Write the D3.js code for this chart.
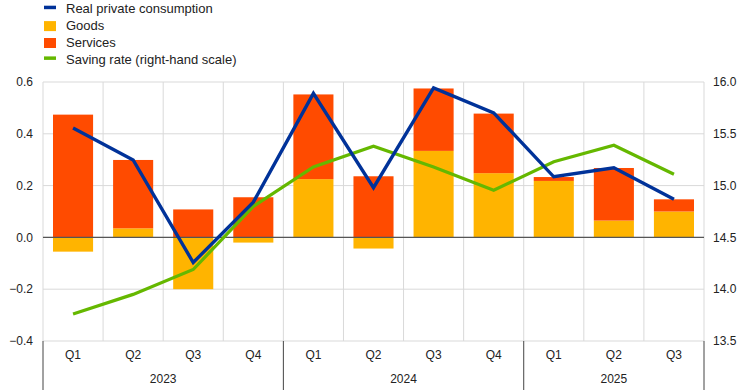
<!DOCTYPE html>
<html>
<head>
<meta charset="utf-8">
<script src="https://cdn.jsdelivr.net/npm/d3@7"></script>
<style>
  body { margin: 0; background: #fff; }
  text { font-family: "Liberation Sans", Arial, sans-serif; fill: #222; }
</style>
</head>
<body>
<svg width="744" height="390"></svg>
<script>
// quarters and years
var quarters = ["Q1","Q2","Q3","Q4","Q1","Q2","Q3","Q4","Q1","Q2","Q3"];
var years = ["2023","2023","2023","2023","2024","2024","2024","2024","2025","2025","2025"];

// contributions (left scale)
var goods    = [-0.055, 0.035, -0.200, -0.020, 0.225, -0.043, 0.334, 0.248, 0.218, 0.065, 0.100];
var services = [ 0.474, 0.264,  0.108,  0.155, 0.327,  0.236, 0.241, 0.230, 0.015, 0.203, 0.047];
var consumption = [0.422, 0.299, -0.097, 0.136, 0.556, 0.192, 0.577, 0.481, 0.234, 0.269, 0.147];

// saving rate (right scale)
var saving = [13.76, 13.95, 14.19, 14.80, 15.18, 15.38, 15.18, 14.955, 15.23, 15.39, 15.11];

var leftTicks = [-0.4, -0.2, 0.0, 0.2, 0.4, 0.6];
var rightTicks = [13.5, 14.0, 14.5, 15.0, 15.5, 16.0];

var colBlue = "#003299", colGoods = "#FFB400", colServ = "#FF4B00", colGreen = "#65B800";

var svg = d3.select("svg"),
  width = +svg.attr("width"),
  height = +svg.attr("height");

var margin = {top: 82, right: 40, bottom: 49, left: 43};
var x0 = margin.left, x1 = width - margin.right;
var y0 = height - margin.bottom, y1 = margin.top;

var idx = d3.range(quarters.length);

var x = d3.scaleBand().domain(idx).range([x0, x1]).paddingInner(0.333).paddingOuter(0.1665);
var xStep = (x1 - x0) / idx.length;
var y = d3.scaleLinear().domain([-0.4, 0.6]).range([y0, y1]);
var yR = d3.scaleLinear().domain([13.5, 16.0]).range([y0, y1]);

// grid
var grid = svg.append("g");
grid.selectAll("line.h")
  .data(leftTicks)
  .enter().append("line")
  .attr("x1", x0).attr("x2", x1)
  .attr("y1", function(d){ return y(d); })
  .attr("y2", function(d){ return y(d); })
  .attr("stroke", "#d9d9d9");
grid.selectAll("line.v")
  .data(d3.range(idx.length + 1))
  .enter().append("line")
  .attr("x1", function(i){ return x0 + i * xStep; })
  .attr("x2", function(i){ return x0 + i * xStep; })
  .attr("y1", y1).attr("y2", y0)
  .attr("stroke", "#d9d9d9");

// bars: goods and services stacked from zero
var bars = svg.append("g");
idx.forEach(function(i){
  var g = goods[i], s = services[i];
  var posBase = 0, negBase = 0;
  var parts = [[g, colGoods], [s, colServ]];
  parts.forEach(function(p){
    var v = p[0], a, b;
    if (v >= 0) { a = posBase; b = posBase + v; posBase = b; }
    else { a = negBase; b = negBase + v; negBase = b; }
    bars.append("rect")
      .attr("x", x(i))
      .attr("width", x.bandwidth())
      .attr("y", y(Math.max(a, b)))
      .attr("height", Math.abs(y(a) - y(b)))
      .attr("fill", p[1]);
  });
});

// zero line
svg.append("line")
  .attr("x1", x0).attr("x2", x1)
  .attr("y1", y(0)).attr("y2", y(0))
  .attr("stroke", "#555").attr("stroke-width", 1.2);

// lines
var cx = function(i){ return x(i) + x.bandwidth() / 2; };
svg.append("path")
  .datum(idx)
  .attr("fill", "none")
  .attr("stroke", colGreen)
  .attr("stroke-width", 3.2)
  .attr("d", d3.line().x(cx).y(function(i){ return yR(saving[i]); }));
svg.append("path")
  .datum(idx)
  .attr("fill", "none")
  .attr("stroke", colBlue)
  .attr("stroke-width", 3.4)
  .attr("d", d3.line().x(cx).y(function(i){ return y(consumption[i]); }));

// left axis labels
svg.append("g").selectAll("text")
  .data(leftTicks)
  .enter().append("text")
  .attr("x", 33)
  .attr("y", function(d){ return y(d); })
  .attr("dy", "0.35em")
  .attr("text-anchor", "end")
  .style("font-size", "12px")
  .text(function(d){ return d3.format(".1f")(d); });

// right axis labels
svg.append("g").selectAll("text")
  .data(rightTicks)
  .enter().append("text")
  .attr("x", 713)
  .attr("y", function(d){ return yR(d); })
  .attr("dy", "0.35em")
  .style("font-size", "12px")
  .text(function(d){ return d3.format(".1f")(d); });

// category axis
svg.append("g").selectAll("text")
  .data(idx)
  .enter().append("text")
  .attr("x", cx)
  .attr("y", 355)
  .attr("dy", "0.35em")
  .attr("text-anchor", "middle")
  .style("font-size", "12px")
  .text(function(i){ return quarters[i]; });

var yearGroups = d3.groups(idx, function(i){ return years[i]; });
var seps = [0];
yearGroups.forEach(function(gr){
  var first = gr[1][0], last = gr[1][gr[1].length - 1];
  seps.push(last + 1);
  svg.append("text")
    .attr("x", (x0 + first * xStep + x0 + (last + 1) * xStep) / 2)
    .attr("y", 379)
    .attr("dy", "0.35em")
    .attr("text-anchor", "middle")
    .style("font-size", "12px")
    .text(gr[0]);
});
svg.append("g").selectAll("line")
  .data(seps)
  .enter().append("line")
  .attr("x1", function(i){ return x0 + i * xStep; })
  .attr("x2", function(i){ return x0 + i * xStep; })
  .attr("y1", y0).attr("y2", height)
  .attr("stroke", "#444");

// legend
var legend = [
  {label: "Real private consumption", color: colBlue, type: "line"},
  {label: "Goods", color: colGoods, type: "box"},
  {label: "Services", color: colServ, type: "box"},
  {label: "Saving rate (right-hand scale)", color: colGreen, type: "line"}
];
var lg = svg.append("g").selectAll("g")
  .data(legend)
  .enter().append("g")
  .attr("transform", function(d, i){ return "translate(0," + (8.7 + i * 16.9) + ")"; });
lg.append("rect")
  .attr("x", 44)
  .attr("width", 12)
  .attr("y", function(d){ return d.type == "line" ? -3 : -4.5; })
  .attr("height", function(d){ return d.type == "line" ? 3.5 : 10; })
  .attr("fill", function(d){ return d.color; });
lg.append("text")
  .attr("x", 66)
  .attr("dy", "0.35em")
  .style("font-size", "13px")
  .text(function(d){ return d.label; });
</script>
</body>
</html>
